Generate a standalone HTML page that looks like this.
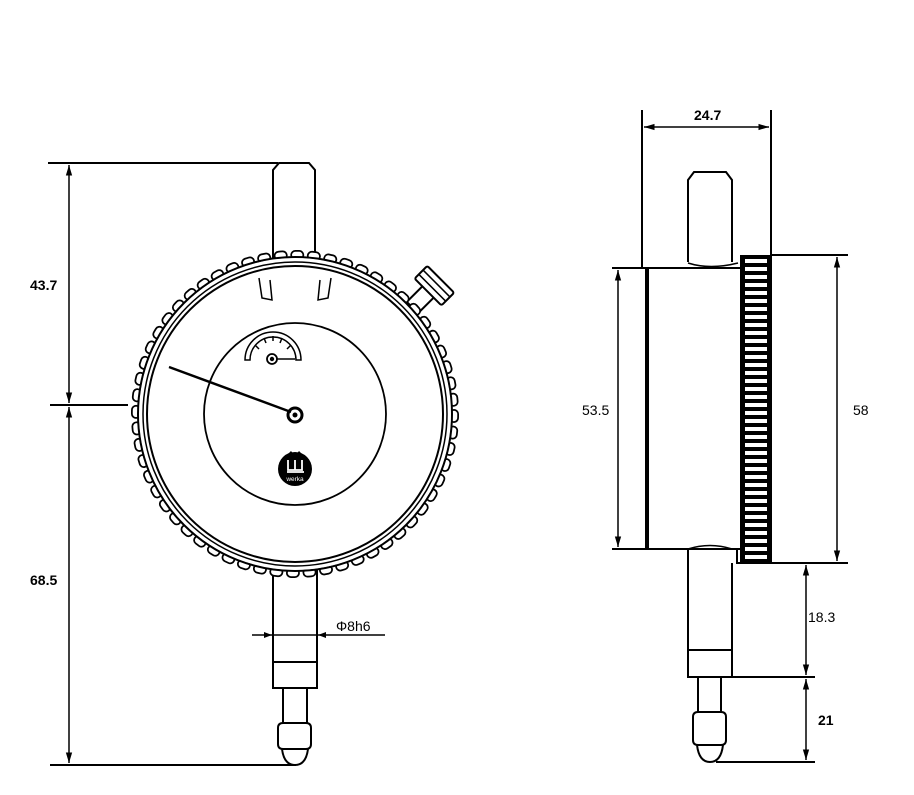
<!DOCTYPE html>
<html><head><meta charset="utf-8"><style>
html,body{margin:0;padding:0;background:#fff}
svg{display:block}
text{font-family:"Liberation Sans",Arial,sans-serif;font-size:14px;fill:#000}
.b{font-weight:bold}
</style></head><body>
<svg width="914" height="795" viewBox="0 0 914 795" xmlns="http://www.w3.org/2000/svg">
<defs>
<marker id="a" viewBox="0 0 10 10" refX="10" refY="5" markerWidth="7" markerHeight="7" orient="auto-start-reverse"><path d="M0,2 L10,5 L0,8 z" fill="#000"/></marker>
<pattern id="kn" x="741" y="257" width="30" height="8" patternUnits="userSpaceOnUse"><rect width="30" height="8" fill="#000"/><rect x="4" y="2" width="22" height="4" fill="#fff"/></pattern>
</defs>
<g fill="none" stroke="#000" stroke-width="2">
<!-- FRONT VIEW -->
<path d="M48,163 H278"/>
<path d="M50,405 H128"/>
<path d="M50,765 H296"/>
<line x1="69" y1="165" x2="69" y2="403" marker-start="url(#a)" marker-end="url(#a)" stroke-width="1.5"/>
<line x1="69" y1="407" x2="69" y2="763" marker-start="url(#a)" marker-end="url(#a)" stroke-width="1.5"/>
<path d="M273,258 V170 L279,163 H309 L315,170 V258" fill="#fff"/>
<!-- crown -->
<g transform="translate(428,292) rotate(45)">
<rect x="-8" y="-2" width="16" height="24" fill="#fff"/>
<rect x="-19" y="-18" width="38" height="18" rx="2" fill="#fff"/>
<path d="M-19,-12 H19 M-19,-6 H19" stroke-width="1.5"/>
</g>
<path d="M273,570 V688 H317 V570" fill="#fff"/>
<path d="M273,662 H317"/>
<path d="M283,688 V723 M307,688 V723"/>
<path d="M283,723 Q278,723 278,728 V744 Q278,749 283,749 H306 Q311,749 311,744 V728 Q311,723 306,723 Z"/>
<path d="M282,749 Q284,765 295,765 Q306,765 308,749"/>
<!-- bezel knurl (scalloped) -->
<circle cx="295" cy="414" r="159" stroke-width="10" stroke-dasharray="4 12.65" stroke-linecap="round"/>
<circle cx="295" cy="414" r="159" stroke="#fff" stroke-width="6.5" stroke-dasharray="4 12.65" stroke-linecap="round"/>
<circle cx="295" cy="414" r="157" stroke-width="2" fill="#fff"/>
<circle cx="295" cy="414" r="155" stroke="#fff" stroke-width="1.5"/>
<circle cx="295" cy="414" r="152" stroke-width="1.5"/>
<circle cx="295" cy="414" r="148" stroke-width="2"/>
<path d="M259,278 L262,298 L272,300 L270,280" stroke-width="1.5"/>
<path d="M331,278 L328,298 L318,300 L320,280" stroke-width="1.5"/>
<circle cx="295" cy="414" r="91" stroke-width="1.8"/>
<path d="M245,360 A28,28 0 0 1 301,360 H296 A23,23 0 0 0 250,360 Z" stroke-width="1.5"/>
<path d="M255,345 l4,4 M264,338 l2,5 M273,336 v5 M282,338 l-2,5 M291,345 l-4,4" stroke-width="1.5"/>
<circle cx="272" cy="359" r="5" stroke-width="1.8"/>
<circle cx="272" cy="359" r="1.2" fill="#000"/>
<path d="M277,359 H295" stroke-width="1.5"/>
<path d="M169,367 L291,412" stroke-width="2.5"/>
<circle cx="295" cy="415" r="7" stroke-width="3"/>
<circle cx="295" cy="415" r="1.5" fill="#000"/>
<path d="M252,635 H385" stroke-width="1.5"/>
<path d="M272,635 l-8,-3 v6 z M318,635 l8,-3 v6 z" fill="#000" stroke="none"/>
<!-- SIDE VIEW -->
<path d="M642,110 V268 M771,110 V255"/>
<line x1="644" y1="127" x2="769" y2="127" marker-start="url(#a)" marker-end="url(#a)" stroke-width="1.5"/>
<path d="M688,262 V180 L694,172 H726 L732,180 V262" fill="#fff"/>
<path d="M612,268 H742 M612,549 H742"/>
<path d="M688,263 Q710,270 738,263 M688,549 Q710,542 732,549" stroke-width="1.5"/>
<rect x="645" y="268" width="4" height="281" fill="#000" stroke="none"/>
<rect x="741" y="256" width="30" height="307" fill="url(#kn)" stroke="#000" stroke-width="2"/>
<path d="M737,549 V563 H741"/>
<path d="M771,255 H848 M771,563 H848"/>
<line x1="837" y1="257" x2="837" y2="561" marker-start="url(#a)" marker-end="url(#a)" stroke-width="1.5"/>
<line x1="618" y1="270" x2="618" y2="547" marker-start="url(#a)" marker-end="url(#a)" stroke-width="1.5"/>
<path d="M688,550 V677 H732 V563"/>
<path d="M688,650 H732"/>
<path d="M698,677 V712 M721,677 V712"/>
<path d="M698,712 Q693,712 693,717 V740 Q693,745 698,745 H721 Q726,745 726,740 V717 Q726,712 721,712 Z"/>
<path d="M697,745 Q699,762 710,762 Q721,762 723,745"/>
<path d="M732,677 H815 M716,762 H815"/>
<line x1="806" y1="565" x2="806" y2="675" marker-start="url(#a)" marker-end="url(#a)" stroke-width="1.5"/>
<line x1="806" y1="679" x2="806" y2="760" marker-start="url(#a)" marker-end="url(#a)" stroke-width="1.5"/>
</g>
<circle cx="295" cy="469" r="17" fill="#000"/>
<path d="M287,455 L291,451 L295,456 L299,451 L303,455 V470 H287 Z" fill="#000"/>
<path d="M288,460 V470 H302 V460 M295,460 V470 M287,472 H304" fill="none" stroke="#fff" stroke-width="1.8"/>
<text x="295" y="481" text-anchor="middle" style="fill:#fff;font-size:6.5px">werka</text>
<text x="30" y="290" class="b">43.7</text>
<text x="30" y="585" class="b">68.5</text>
<text x="336" y="631">Φ8h6</text>
<text x="694" y="120" class="b">24.7</text>
<text x="582" y="415">53.5</text>
<text x="853" y="415">58</text>
<text x="808" y="622">18.3</text>
<text x="818" y="725" class="b">21</text>
</svg>
</body></html>
